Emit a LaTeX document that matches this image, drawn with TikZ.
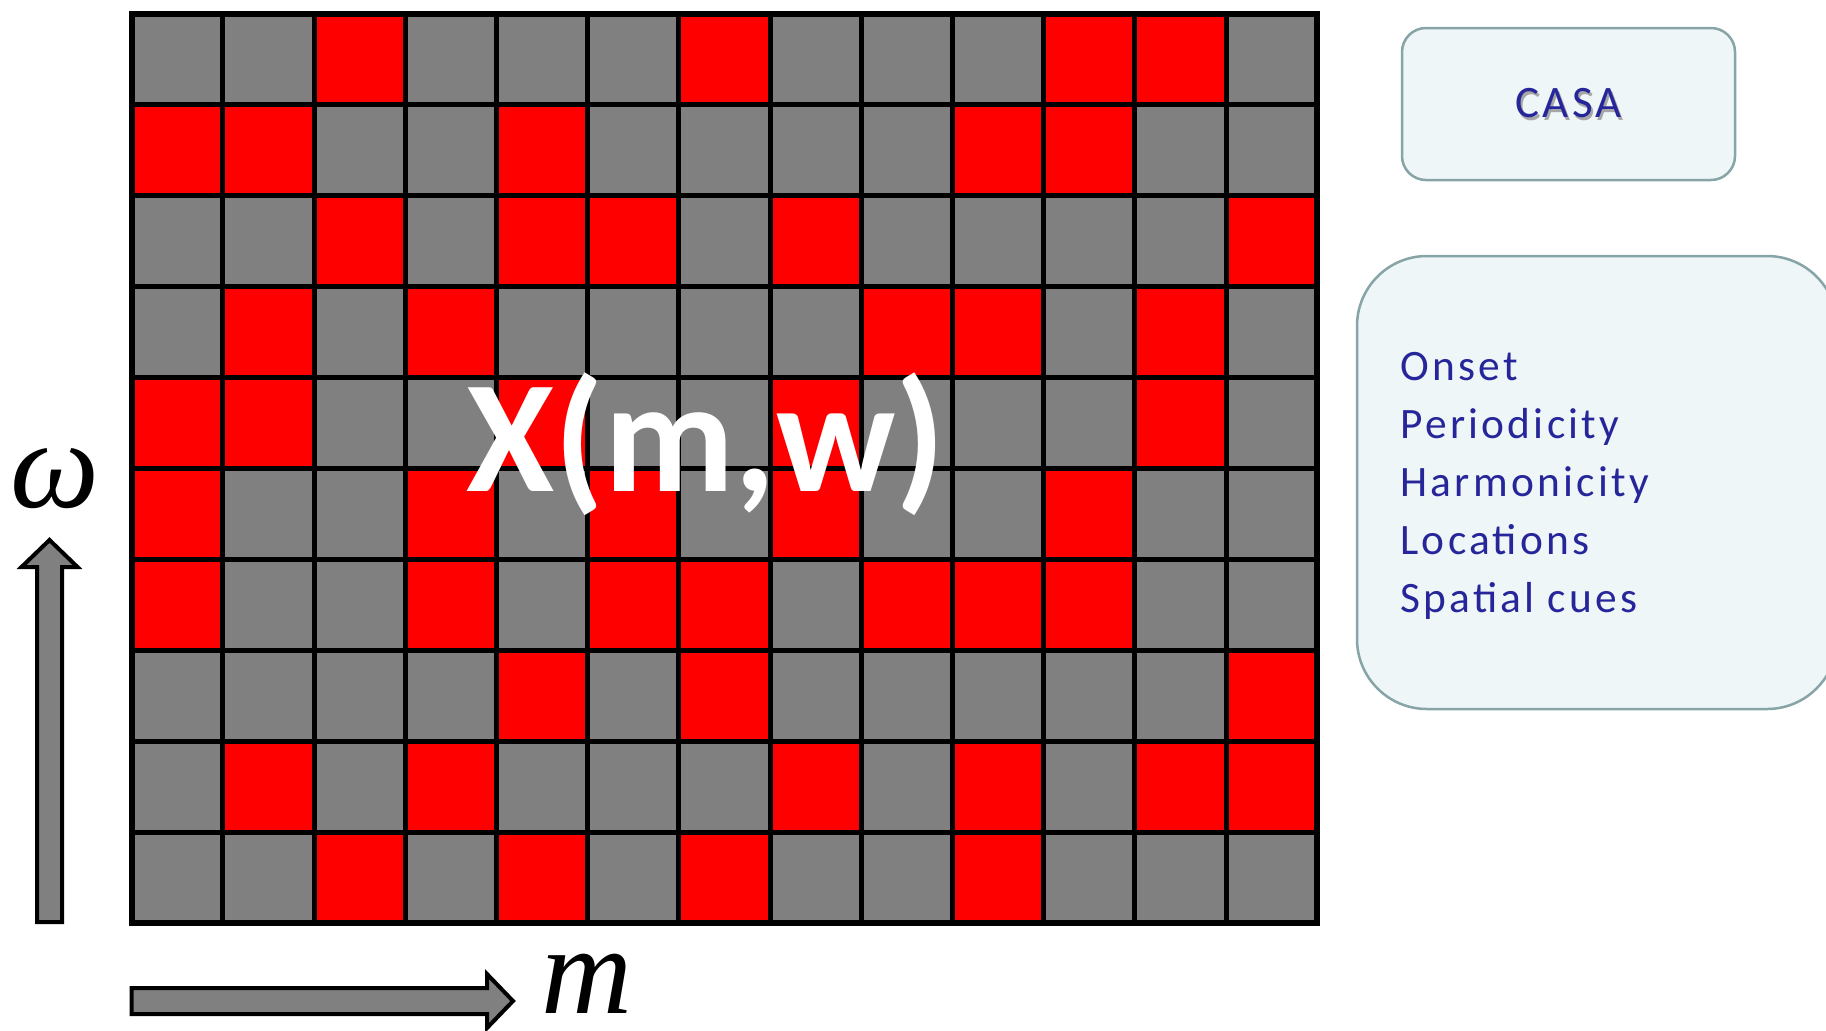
\documentclass[tikz,border=0pt]{standalone}
\usepackage{fontspec}
\usepackage{xcolor}
\usepackage{tikz}
\newfontfamily\cuefont{Carlito}[LetterSpace=7.5]
\newfontfamily\markfont{Carlito}
\newfontfamily\axisfont{Liberation Serif}
\definecolor{CellRed}{HTML}{FF0000}
\definecolor{CellGray}{HTML}{808080}
\definecolor{BoxFill}{HTML}{EEF6F8}
\definecolor{BoxEdge}{HTML}{87A4A7}
\definecolor{CueBlue}{HTML}{26269A}

\begin{document}
\begin{tikzpicture}[x=0.5pt, y=-0.5pt,
  grid_line/.style={black, line width=2.5pt},
  block_arrow/.style={fill=CellGray, draw=black, line width=2pt, line join=miter},
  casa_box/.style={draw=BoxEdge, fill=BoxFill, line width=1.25pt,
    rounded corners=12pt, minimum width=166.5pt, minimum height=76pt},
  cue_box/.style={draw=BoxEdge, fill=BoxFill, line width=1.25pt,
    rounded corners=35pt, minimum width=240pt, minimum height=226.5pt},
  cue_text/.style={anchor=base west, inner sep=0pt, text=CueBlue,
    font=\cuefont\fontsize{21.7}{26}\selectfont},
  casa_text/.style={inner sep=0pt, font=\cuefont\fontsize{22.5}{26}\selectfont},
  axis_label/.style={anchor=base, inner sep=0pt, font=\axisfont\itshape\fontsize{63}{68}\selectfont},
  mark_label/.style={anchor=base, inner sep=0pt, text=white,
    font=\markfont\bfseries\fontsize{80}{82}\selectfont}
]
  \useasboundingbox (0,0) rectangle (1826,1030);
  \clip (0,0) rectangle (1826,1030);

  \foreach \cells [count=\r from 0] in {
    {0,0,1,0,0,0,1,0,0,0,1,1,0},
    {1,1,0,0,1,0,0,0,0,1,1,0,0},
    {0,0,1,0,1,1,0,1,0,0,0,0,1},
    {0,1,0,1,0,0,0,0,1,1,0,1,0},
    {1,1,0,0,1,0,0,1,0,0,0,1,0},
    {1,0,0,1,0,1,0,1,0,0,1,0,0},
    {1,0,0,1,0,1,1,0,1,1,1,0,0},
    {0,0,0,0,1,0,1,0,0,0,0,0,1},
    {0,1,0,1,0,0,0,1,0,1,0,1,1},
    {0,0,1,0,1,0,1,0,0,1,0,0,0}}
    \foreach \v [count=\c from 0] in \cells {
      \ifnum\v=1 \def\shade{CellRed}\else\def\shade{CellGray}\fi
      \fill[\shade] ({131.6+91.2*\c},{14+90.9*\r}) rectangle +(91.2,90.9);
    };

  \foreach \c in {1,...,12}
    \draw[grid_line] ({131.6+91.2*\c},14) -- ({131.6+91.2*\c},923);
  \foreach \r in {1,...,9}
    \draw[grid_line] (131.6,{14+90.9*\r}) -- (1317.2,{14+90.9*\r});
  \draw[grid_line, line width=3pt] (131.6,14) rectangle (1317.2,923);

  \node[mark_label] (spectrum) at (706,491) {X(m,w)};

  \draw[block_arrow] (37,922) -- (37,567) -- (21.5,567) -- (49.5,540)
    -- (77.5,567) -- (62,567) -- (62,922) -- cycle;
  \draw[block_arrow] (131.6,988) -- (487,988) -- (487,974) -- (513,1001)
    -- (487,1028) -- (487,1014) -- (131.6,1014) -- cycle;

  \node[axis_label] (omega) at (54.5,507) {ω};
  \node[axis_label] (frame) at (586.5,1013) {m};

  \node[casa_box] (casa) at (1568.5,104) {};
  \node[casa_text, text=black!35] (casashadow) at (1570.5,106.5) {CASA};
  \node[casa_text, text=CueBlue] (casatext) at (1568.5,103) {CASA};

  \node[cue_box] (cues) at (1597,482.5) {};
  \foreach \cue [count=\i from 0] in {Onset, Periodicity, Harmonicity, Locations, Spatial cues}
    \node[cue_text] (cue\i) at (1400,{380+58*\i}) {\cue};

\end{tikzpicture}
\end{document}
